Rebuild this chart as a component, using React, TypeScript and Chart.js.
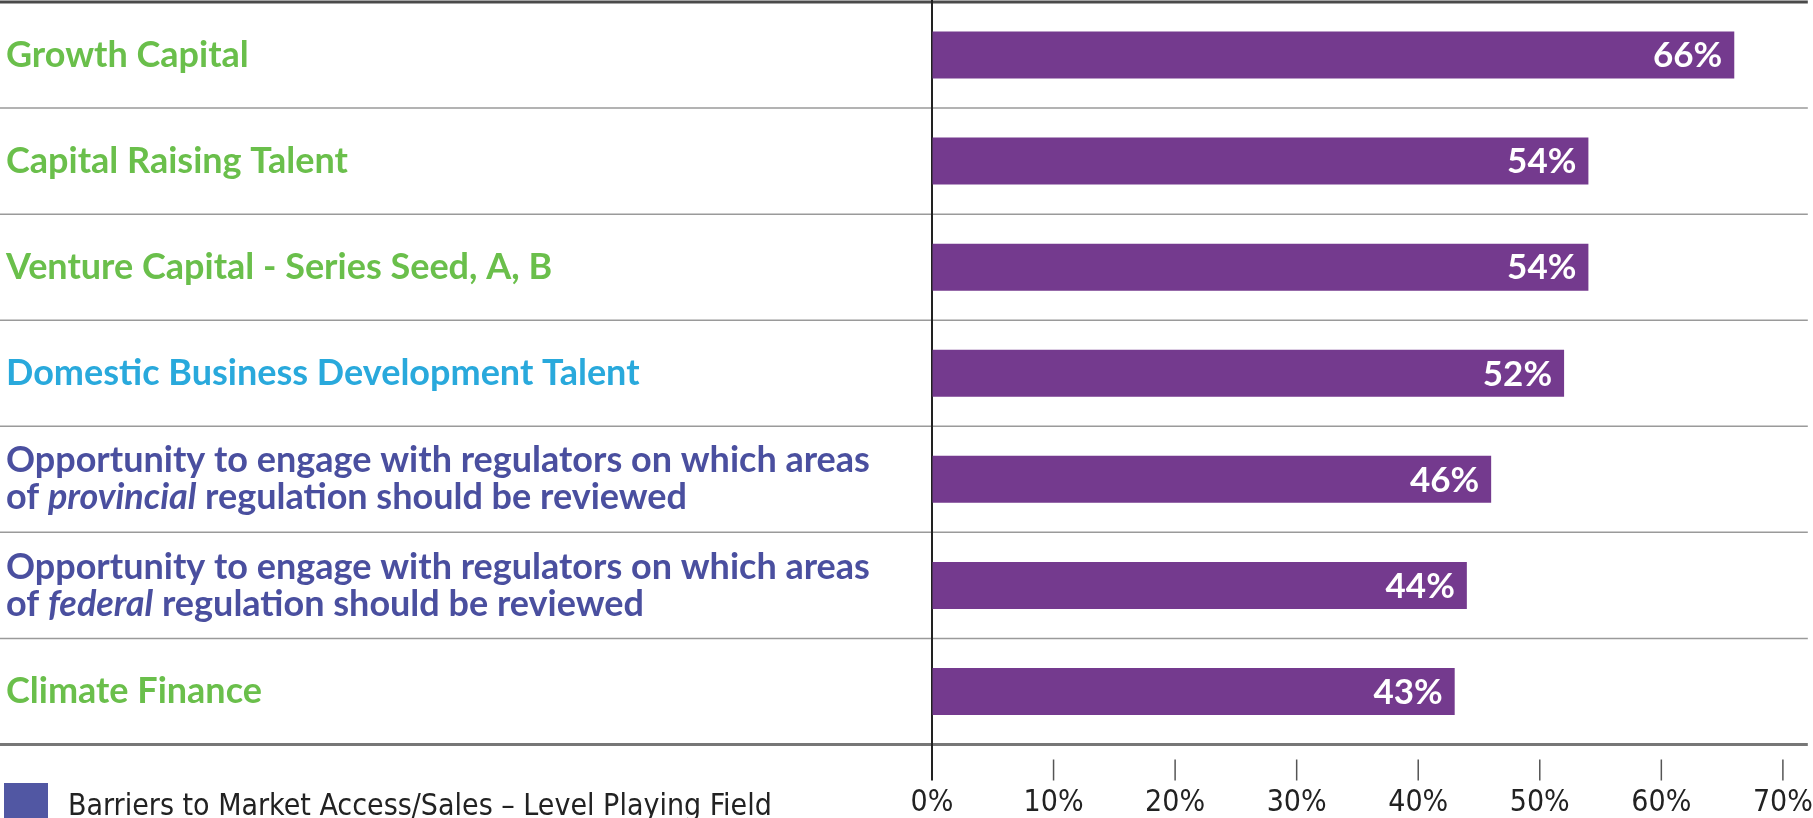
import React, { useEffect, useRef } from "react";
import { Chart, registerables } from "chart.js";

Chart.register(...registerables);

// Category labels: each entry is a list of lines; *word* marks italic text
const categories: string[][] = [
  ["Growth Capital"],
  ["Capital Raising Talent"],
  ["Venture Capital - Series Seed, A, B"],
  ["Domestic Business Development Talent"],
  ["Opportunity to engage with regulators on which areas", "of *provincial* regulation should be reviewed"],
  ["Opportunity to engage with regulators on which areas", "of *federal* regulation should be reviewed"],
  ["Climate Finance"],
];
const labelColors: string[] = ["#6abf4b", "#6abf4b", "#6abf4b", "#29a9dc", "#4a4f9f", "#4a4f9f", "#6abf4b"];
const values: number[] = [66, 54, 54, 52, 46, 44, 43];
const tickValues: number[] = [0, 10, 20, 30, 40, 50, 60, 70];
const legendLabel = "Barriers to Market Access/Sales \u2013 Level Playing Field";

const LABEL_FONT = "Lato";
const NARROW_FONT = '"Liberation Sans Narrow", "DejaVu Sans Condensed", "Open Sans", sans-serif';

const decorPlugin = {
  id: "decor",
  beforeDatasetsDraw(chart: any) {
    const ctx = chart.ctx;
    const area = chart.chartArea;
    const y = chart.scales.y;
    const x = chart.scales.x;
    ctx.save();
    // row separators
    const n = categories.length;
    for (let i = 0; i <= n; i++) {
      let py: number;
      if (i === 0) py = area.top;
      else if (i === n) py = area.bottom;
      else py = (y.getPixelForValue(i - 1) + y.getPixelForValue(i)) / 2;
      ctx.beginPath();
      if (i === 0) {
        ctx.strokeStyle = "#4a4a4a";
        ctx.lineWidth = 3;
      } else if (i === n) {
        ctx.strokeStyle = "#777777";
        ctx.lineWidth = 3;
      } else {
        ctx.strokeStyle = "#9a9a9a";
        ctx.lineWidth = 1.5;
      }
      ctx.moveTo(0, py);
      ctx.lineTo(area.right, py);
      ctx.stroke();
    }
    // tick marks
    ctx.strokeStyle = "#555555";
    ctx.lineWidth = 1.5;
    tickValues.forEach((v) => {
      if (v === 0) return;
      const px = x.getPixelForValue(v);
      ctx.beginPath();
      ctx.moveTo(px, area.bottom + 15);
      ctx.lineTo(px, area.bottom + 36);
      ctx.stroke();
    });
    // vertical axis line
    ctx.strokeStyle = "#222222";
    ctx.lineWidth = 2;
    const x0 = x.getPixelForValue(0);
    ctx.beginPath();
    ctx.moveTo(x0, 0);
    ctx.lineTo(x0, area.bottom + 36);
    ctx.stroke();
    ctx.restore();
  },
  afterDatasetsDraw(chart: any) {
    const ctx = chart.ctx;
    const y = chart.scales.y;
    const x = chart.scales.x;
    ctx.save();
    // category labels
    ctx.textBaseline = "middle";
    ctx.textAlign = "left";
    categories.forEach((lines, i) => {
      const cy = y.getPixelForValue(i);
      const lineGap = 37;
      lines.forEach((line, li) => {
        const ly = cy + (li - (lines.length - 1) / 2) * lineGap;
        let px = 6;
        const parts = line.split("*");
        parts.forEach((part, pi) => {
          const italic = pi % 2 === 1;
          ctx.font = `${italic ? "italic " : ""}bold 36px ${LABEL_FONT}`;
          ctx.fillStyle = labelColors[i];
          ctx.fillText(part, px, ly);
          px += ctx.measureText(part).width;
        });
      });
    });
    // value labels
    ctx.font = `bold 35px ${LABEL_FONT}`;
    ctx.fillStyle = "#ffffff";
    ctx.textAlign = "right";
    values.forEach((v, i) => {
      ctx.fillText(`${v}%`, x.getPixelForValue(v) - 12, y.getPixelForValue(i) + 1);
    });
    // legend
    ctx.fillStyle = "#5157a3";
    ctx.fillRect(4, 783, 44, 40);
    ctx.fillStyle = "#222222";
    ctx.textAlign = "left";
    ctx.textBaseline = "alphabetic";
    ctx.font = `30px ${NARROW_FONT}`;
    ctx.fillText(legendLabel, 68, 815);
    ctx.restore();
  },
};

export default function App() {
  const ref = useRef<HTMLCanvasElement | null>(null);
  useEffect(() => {
    if (!ref.current) return;
    const chart = new Chart(ref.current, {
      type: "bar",
      data: {
        labels: categories.map((c) => c.join(" ").replace(/\*/g, "")),
        datasets: [
          {
            data: values,
            backgroundColor: "#743a8e",
            borderWidth: 0,
            barPercentage: 0.443,
            categoryPercentage: 1,
          },
        ],
      },
      options: {
        indexAxis: "y",
        animation: false,
        responsive: false,
        maintainAspectRatio: false,
        layout: { padding: { top: 2, right: 4, left: 0, bottom: 0 } },
        plugins: { legend: { display: false }, tooltip: { enabled: false } },
        scales: {
          x: {
            type: "linear",
            min: 0,
            max: 72.05,
            grid: {
              display: true,
              drawOnChartArea: false,
              drawTicks: true,
              tickLength: 43.5,
              color: "rgba(0,0,0,0)",
            },
            border: { display: false },
            afterBuildTicks: (scale: any) => {
              scale.ticks = tickValues.map((v) => ({ value: v }));
            },
            ticks: {
              padding: 0,
              color: "#222222",
              font: { family: NARROW_FONT, size: 30, lineHeight: 1 },
              callback: (v: any) => `${v}%`,
              maxRotation: 0,
              minRotation: 0,
            },
          },
          y: {
            type: "category",
            grid: { display: false },
            border: { display: false },
            ticks: { display: false },
            afterFit: (scale: any) => {
              scale.width = 932;
            },
          },
        },
      },
      plugins: [decorPlugin],
    } as any);
    return () => chart.destroy();
  }, []);
  return (
    <div style={{ position: "fixed", left: 0, top: 0, width: 1813, height: 818, background: "#fff" }}>
      <canvas ref={ref} width={1813} height={818} style={{ display: "block", width: 1813, height: 818 }} />
    </div>
  );
}
